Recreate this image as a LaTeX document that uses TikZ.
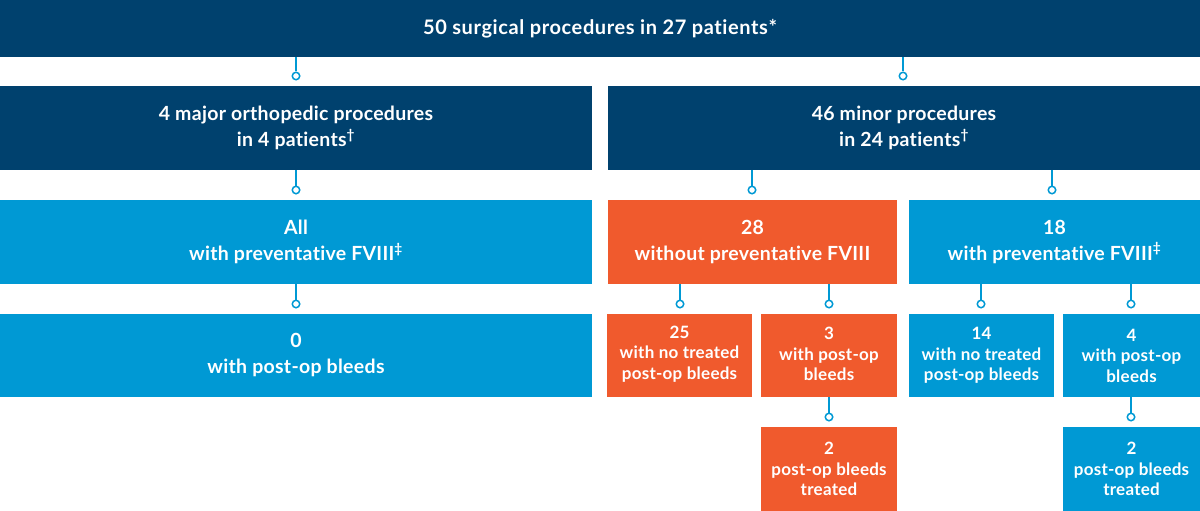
\documentclass[tikz,border=0pt]{standalone}
\usepackage{fontspec}
\setmainfont{Lato}[BoldFont={Lato Bold},Ligatures=NoCommon,RawFeature={-liga;-clig;-calt;-dlig}]
\newfontfamily\widelato{Lato}[BoldFont={Lato Bold},LetterSpace=3,Ligatures=NoCommon,RawFeature={-liga;-clig;-calt;-dlig}]
\newfontfamily\midlato{Lato}[BoldFont={Lato Bold},LetterSpace=1.5,Ligatures=NoCommon,RawFeature={-liga;-clig;-calt;-dlig}]
\definecolor{navy}{RGB}{0,65,110}
\definecolor{lblue}{RGB}{0,153,212}
\definecolor{orng}{RGB}{240,90,45}
\newcommand{\dg}{\textsuperscript{†}}
\newcommand{\ddg}{\textsuperscript{‡}}
\begin{document}
\begin{tikzpicture}[x=1pt,y=-1pt,
  box/.style={inner sep=0pt, outer sep=0pt, align=center, text=white, font=\midlato\bfseries\fontsize{19.5}{26}\selectfont},
  tbox/.style={box, font=\widelato\bfseries\fontsize{20}{26}\selectfont},
  sbox/.style={box, font=\midlato\bfseries\fontsize{17}{20.5}\selectfont},
  dark/.style={fill=navy},
  blu/.style={fill=lblue},
  org/.style={fill=orng},
  ring/.style={circle, draw=lblue, fill=white, line width=1.5pt, minimum size=7.5pt, inner sep=0pt},
  conn/.style={draw=lblue, line width=1.6pt}
]
\useasboundingbox (0,0) rectangle (1200,511);
% row 1
\node[tbox,dark,minimum width=1200pt,minimum height=57pt] (top) at (600,28.5) {50 surgical procedures in 27 patients*};
% row 2
\node[box,dark,minimum width=592pt,minimum height=84pt] (major) at (296,128) {4 major orthopedic procedures\\in 4 patients\dg};
\node[box,dark,minimum width=592pt,minimum height=84pt] (minor) at (904,128) {46 minor procedures\\in 24 patients\dg};
% row 3
\node[box,blu,minimum width=592pt,minimum height=84pt] (allp) at (296,242) {All\\with preventative FVIII\ddg};
\node[box,org,minimum width=289pt,minimum height=84pt] (wout) at (752.5,242) {28\\without preventative FVIII};
\node[box,blu,minimum width=291pt,minimum height=84pt] (wprev) at (1054.5,242) {18\\with preventative FVIII\ddg};
% row 4
\node[box,blu,minimum width=592pt,minimum height=83pt] (zero) at (296,355.5) {0\\with post-op bleeds};
\node[sbox,org,minimum width=145pt,minimum height=83pt] (o25) at (679.5,355.5) {};
\node[sbox,org,minimum width=136pt,minimum height=83pt] (o3) at (829,355.5) {};
\node[sbox,blu,minimum width=145pt,minimum height=83pt] (b14) at (981.5,355.5) {};
\node[sbox,blu,minimum width=137pt,minimum height=83pt] (b4) at (1131.5,355.5) {};
\node[sbox] (o25t) at ([yshift=1.5pt]o25.center) {25\\with no treated\\post-op bleeds};
\node[sbox] (o3t) at ([yshift=1.5pt]o3.center) {3\\with post-op\\bleeds};
\node[sbox] (b14t) at (b14.center) {14\\with no treated\\post-op bleeds};
\node[sbox] (b4t) at (b4.center) {4\\with post-op\\bleeds};
% row 5
\node[sbox,org,minimum width=136pt,minimum height=84pt] (o2) at (829,469) {2\\post-op bleeds\\treated};
\node[sbox,blu,minimum width=137pt,minimum height=84pt] (b2) at (1131.5,469) {2\\post-op bleeds\\treated};
% rings
\node[ring] (r1a) at (296,76) {};
\node[ring] (r1b) at (903,76) {};
\node[ring] (r2a) at (296,190) {};
\node[ring] (r2b) at (752,190) {};
\node[ring] (r2c) at (1052,190) {};
\node[ring] (r3a) at (296,304) {};
\node[ring] (r3b) at (680,304) {};
\node[ring] (r3c) at (829,304) {};
\node[ring] (r3d) at (981,304) {};
\node[ring] (r3e) at (1131,304) {};
\node[ring] (r4a) at (829,417) {};
\node[ring] (r4b) at (1131,417) {};
% connectors
\draw[conn] (top.south -| r1a) -- (r1a.north);
\draw[conn] (top.south -| r1b) -- (r1b.north);
\draw[conn] (major.south -| r2a) -- (r2a.north);
\draw[conn] (minor.south -| r2b) -- (r2b.north);
\draw[conn] (minor.south -| r2c) -- (r2c.north);
\draw[conn] (allp.south -| r3a) -- (r3a.north);
\draw[conn] (wout.south -| r3b) -- (r3b.north);
\draw[conn] (wout.south -| r3c) -- (r3c.north);
\draw[conn] (wprev.south -| r3d) -- (r3d.north);
\draw[conn] (wprev.south -| r3e) -- (r3e.north);
\draw[conn] (o3.south -| r4a) -- (r4a.north);
\draw[conn] (b4.south -| r4b) -- (r4b.north);
\end{tikzpicture}
\end{document}
